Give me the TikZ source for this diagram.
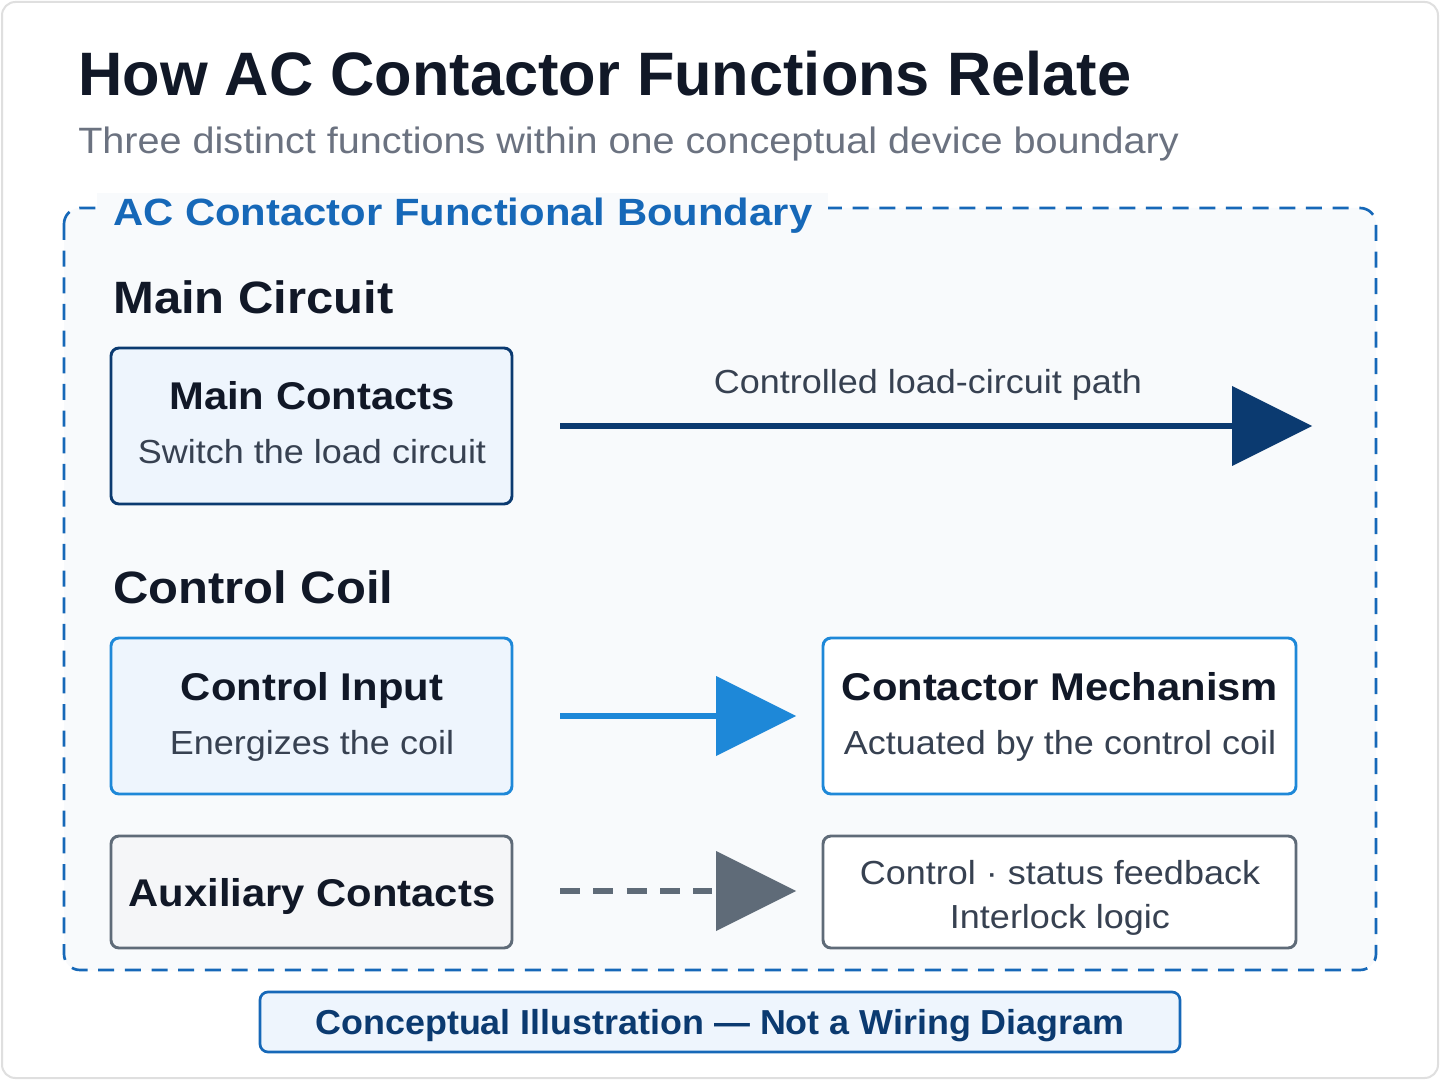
\documentclass[tikz,border=0pt]{standalone}
\usepackage{fontspec}
\setmainfont{Liberation Sans}
\newfontfamily\wide{Liberation Sans}[FakeStretch=1.08]
\newfontfamily\wider{Liberation Sans}[FakeStretch=1.1]
\newfontfamily\slight{Liberation Sans}[FakeStretch=1.035]
\usetikzlibrary{arrows.meta}
\definecolor{navy}{HTML}{0B3A70}
\definecolor{midblue}{HTML}{1E88D8}
\definecolor{bblue}{HTML}{1668B8}
\definecolor{gry}{HTML}{5F6B78}
\definecolor{lightfill}{HTML}{EEF5FD}
\definecolor{ink}{HTML}{111827}
\definecolor{sub}{HTML}{6B7280}
\definecolor{txt}{HTML}{374151}
\newcommand{\fs}[1]{\fontsize{#1pt}{#1pt}\selectfont}
\tikzset{
  txtnode/.style={inner sep=0pt, anchor=base west},
  ctrnode/.style={inner sep=0pt, anchor=base},
  boxA/.style={draw=navy, line width=2.2pt, fill=lightfill, rounded corners=6pt},
  boxB/.style={draw=midblue, line width=2.2pt, rounded corners=6pt},
  boxC/.style={draw=gry, line width=2.2pt, rounded corners=6pt},
}
\begin{document}
\begin{tikzpicture}[x=0.75pt,y=-0.75pt]
\useasboundingbox (0,0) rectangle (1440,1080);
\draw[draw=gray!25, line width=1.5pt, fill=white, rounded corners=10pt] (2,2) rectangle (1438,1078);
\node[txtnode, text=ink] (title) at (78,96) {\fs{46}\bfseries How AC Contactor Functions Relate};
\node[txtnode, text=sub] (subt) at (78,154) {\wide\fs{27.5}Three distinct functions within one conceptual device boundary};
% boundary
\draw[draw=bblue, line width=2pt, dash pattern=on 12pt off 8pt, fill={rgb,255:red,248;green,250;blue,252}, rounded corners=12pt] (64,208) rectangle (1376,970);
\node[txtnode, text=bblue, fill={rgb,255:red,248;green,250;blue,252}, inner xsep=12pt, inner ysep=4pt] (blabel) at (97,226) {\wider\fs{28.5}\bfseries AC Contactor Functional Boundary};
\node[txtnode, text=ink] (mc) at (113,314) {\wide\fs{34}\bfseries Main Circuit};
\node[txtnode, text=ink] (cc) at (113,604) {\wide\fs{34}\bfseries Control Coil};
% main contacts
\draw[boxA] (111,348) rectangle (512,504);
\node[ctrnode, text=ink] (mct) at (312,410) {\wide\fs{29}\bfseries Main Contacts};
\node[ctrnode, text=txt] (mcs) at (312,464) {\wide\fs{25}Switch the load circuit};
\coordinate (a1s) at (560,426); \coordinate (a1e) at (1235,426);
\draw[navy, line width=5pt] (a1s) -- (a1e);
\fill[navy] (1232,386) -- (1312,426) -- (1232,466) -- cycle;
\node[ctrnode, text=txt] (a1l) at (928,394) {\wide\fs{25}Controlled load-circuit path};
% control input
\draw[boxB, fill=lightfill] (111,638) rectangle (512,794);
\node[ctrnode, text=ink] (cit) at (312,700) {\wide\fs{29}\bfseries Control Input};
\node[ctrnode, text=txt] (cis) at (312,754) {\wide\fs{25}Energizes the coil};
\coordinate (a2s) at (560,716); \coordinate (a2e) at (720,716);
\draw[midblue, line width=5pt] (a2s) -- (a2e);
\fill[midblue] (716,676) -- (796,716) -- (716,756) -- cycle;
\draw[boxB, fill=white] (823,638) rectangle (1296,794);
\node[ctrnode, text=ink] (cmt) at (1060,700) {\wide\fs{29}\bfseries Contactor Mechanism};
\node[ctrnode, text=txt] (cms) at (1060,754) {\wide\fs{25}Actuated by the control coil};
% auxiliary
\draw[boxC, fill={rgb,255:red,245;green,246;blue,248}] (111,836) rectangle (512,948);
\node[ctrnode, text=ink] (axt) at (312,906) {\wide\fs{29}\bfseries Auxiliary Contacts};
\coordinate (a3s) at (560,891); \coordinate (a3e) at (712,891);
\draw[gry, line width=5pt, dash pattern=on 15pt off 10pt] (a3s) -- (a3e);
\fill[gry] (716,851) -- (796,891) -- (716,931) -- cycle;
\draw[boxC, fill=white] (823,836) rectangle (1296,948);
\node[ctrnode, text=txt] (fb1) at (1060,884) {\wide\fs{25}Control · status feedback};
\node[ctrnode, text=txt] (fb2) at (1060,928) {\wide\fs{25}Interlock logic};
% footer
\draw[draw=bblue, line width=2pt, fill=lightfill, rounded corners=6pt] (260,992) rectangle (1180,1052);
\node[ctrnode, text=navy] (foot) at (720,1034) {\slight\fs{26}\bfseries Conceptual Illustration — Not a Wiring Diagram};
\end{tikzpicture}
\end{document}
